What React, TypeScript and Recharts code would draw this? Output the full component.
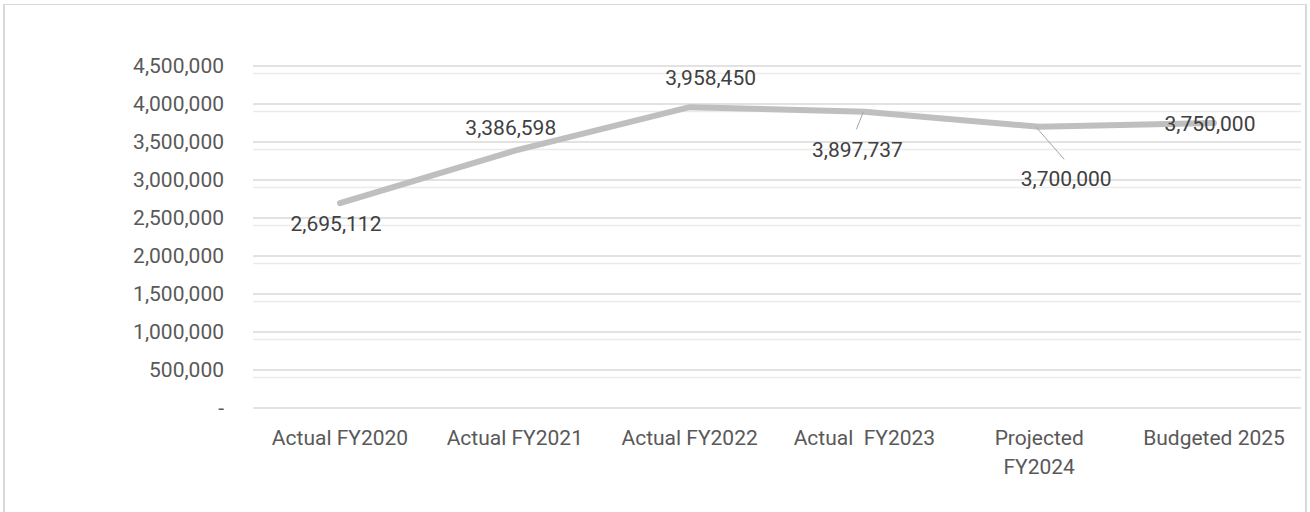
import { CartesianGrid, LabelList, Line, LineChart, XAxis, YAxis } from 'recharts';

const categories = [
  'Actual FY2020',
  'Actual FY2021',
  'Actual FY2022',
  'Actual  FY2023',
  'Projected\nFY2024',
  'Budgeted 2025',
];

const totals = [2695112, 3386598, 3958450, 3897737, 3700000, 3750000];

const yTicks = [0, 500000, 1000000, 1500000, 2000000, 2500000, 3000000, 3500000, 4000000, 4500000];

const data = categories.map((name, i) => ({ name, value: totals[i] }));

// light lines every 100k between the major ticks
const minorTicks = yTicks.slice(0, -1).flatMap((t, i) => {
  const step = (yTicks[i + 1] - t) / 5;
  return [1, 2, 3, 4].map((k) => t + k * step);
});

const FONT = 'Roboto, "Liberation Sans", Arial, sans-serif';

// label placement relative to each point, plus optional leader line [x1, y1, x2, y2]
const labelPlacement: { dx: number; dy: number; leader?: number[] }[] = [
  { dx: -4, dy: 20 },
  { dx: -4, dy: -23 },
  { dx: 21, dy: -30 },
  { dx: -7, dy: 37.5, leader: [-1, 0, -8, 17.5] },
  { dx: 27, dy: 52, leader: [-3, 0.5, 25, 32.5] },
  { dx: -4, dy: 1 },
];

const fmt = (v: number) => (v === 0 ? '-' : v.toLocaleString('en-US'));

const renderLabel = (props: any) => {
  const { x, y, value, index } = props;
  const p = labelPlacement[index] ?? { dx: 0, dy: -20 };
  return (
    <g>
      {p.leader && (
        <line
          x1={x + p.leader[0]}
          y1={y + p.leader[1]}
          x2={x + p.leader[2]}
          y2={y + p.leader[3]}
          stroke="#a6a6a6"
          strokeWidth={1}
        />
      )}
      <text
        x={x + p.dx}
        y={y + p.dy}
        dy="0.355em"
        textAnchor="middle"
        fill="#404040"
        style={{ fontSize: 21, fontFamily: FONT }}
      >
        {fmt(Number(value))}
      </text>
    </g>
  );
};

const CategoryTick = (props: any) => {
  const { x, y, payload } = props;
  const lines = String(payload.value).split('\n');
  return (
    <text
      x={x}
      y={y + 35}
      textAnchor="middle"
      fill="#595959"
      style={{ fontSize: 21, fontFamily: FONT, whiteSpace: 'pre' }}
    >
      {lines.map((ln, i) => (
        <tspan key={i} x={x} dy={i === 0 ? 0 : 29}>
          {ln}
        </tspan>
      ))}
    </text>
  );
};

const App = () => (
  <div style={{ position: 'absolute', left: 0, top: 0, width: 1310, height: 512, overflow: 'hidden', background: '#fff' }}>
    <div
      style={{
        position: 'absolute',
        left: 3,
        top: 4,
        width: 1304,
        height: 530,
        borderTop: '1px solid #d9d9d9',
        borderLeft: '2px solid #d9d9d9',
        borderRight: '2px solid #d9d9d9',
        boxSizing: 'border-box',
      }}
    />
    <LineChart
      width={1310}
      height={512}
      data={data}
      margin={{ top: 66, right: 9, bottom: 44, left: 0 }}
      style={{ position: 'absolute', left: 0, top: 0, fontFamily: FONT }}
    >
      <CartesianGrid vertical={false} horizontalValues={minorTicks} stroke="#ebebeb" strokeWidth={1.5} />
      <CartesianGrid vertical={false} stroke="#d9d9d9" strokeWidth={1.5} />
      <XAxis
        dataKey="name"
        axisLine={false}
        tickLine={false}
        tickSize={0}
        height={60}
        interval={0}
        padding={{ left: 87, right: 87 }}
        tick={<CategoryTick />}
      />
      <YAxis
        width={253}
        domain={[0, 4500000]}
        ticks={yTicks}
        axisLine={false}
        tickLine={false}
        tickSize={0}
        tickMargin={29}
        tickFormatter={fmt}
        tick={{ fill: '#595959', fontSize: 21, fontFamily: FONT }}
      />
      <Line
        type="linear"
        dataKey="value"
        stroke="#bfbfbf"
        strokeWidth={6}
        strokeLinecap="round"
        strokeLinejoin="round"
        dot={false}
        activeDot={false}
        isAnimationActive={false}
      >
        <LabelList dataKey="value" content={renderLabel} />
      </Line>
    </LineChart>
  </div>
);

export default App;
